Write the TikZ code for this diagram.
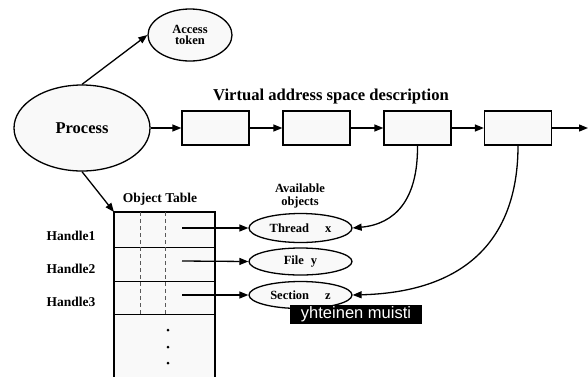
\documentclass[tikz,border=0pt]{standalone}
\usepackage{fontspec}
\setmainfont{Liberation Serif}
\newfontfamily\labelsans{Liberation Sans}
\usetikzlibrary{arrows.meta,shapes.geometric}
\definecolor{pale}{gray}{0.975}
\tikzset{
  every picture/.style={x=1pt,y=-1pt},
  ln/.style={line width=1.3pt},
  arr/.style={ln,-{Triangle[length=9pt,width=7pt]}},
  oval/.style={ellipse,draw,ln,fill=pale,inner sep=0pt,font=\bfseries\fontsize{12.5}{13}\selectfont},
  cell/.style={rectangle,draw,ln,fill=pale,minimum width=67pt,minimum height=34pt,inner sep=0pt},
  lbl/.style={font=\bfseries\fontsize{12.5}{14}\selectfont,align=center,inner sep=0pt},
}
\begin{document}
\begin{tikzpicture}
\useasboundingbox (0,0) rectangle (588,376);
\clip (0,0) rectangle (588,376);
% ellipses
\node[oval,minimum width=84pt,minimum height=52pt,align=center] (tok) at (190,35) {Access\\[-2pt]token};
\node[oval,minimum width=136pt,minimum height=86pt,font=\bfseries\fontsize{16.5}{17}\selectfont] (proc) at (82,128) {Process};
% VAD boxes
\node[cell] (b1) at (215.5,128) {};
\node[cell] (b2) at (316.5,128) {};
\node[cell] (b3) at (417.5,128) {};
\node[cell] (b4) at (518,128) {};
\coordinate (end) at (588,128);
\node[font=\bfseries\fontsize{16.6}{17}\selectfont,inner sep=0pt] (vtitle) at (331,97) {Virtual address space description};
% object table
\draw[ln,fill=pale] (114,212) rectangle (215,390);
\draw[line width=0.8pt] (114,247) -- (215,247) (114,281) -- (215,281) (114,314) -- (215,314);
\draw[line width=0.8pt,dashed,dash pattern=on 4pt off 3pt,gray!70!black] (140,212) -- (140,314) (165,212) -- (165,314);
\coordinate (tl) at (114,212);
\node[lbl,font=\bfseries\fontsize{13.5}{14}\selectfont] (ot) at (160,199) {Object Table};
\node[lbl,font=\bfseries\fontsize{13.5}{14}\selectfont] (h1) at (71,236) {Handle1};
\node[lbl,font=\bfseries\fontsize{13.5}{14}\selectfont] (h2) at (71,269) {Handle2};
\node[lbl,font=\bfseries\fontsize{13.5}{14}\selectfont] (h3) at (71,302) {Handle3};
\foreach \yy/\n in {330/d1,347/d2,363/d3}{\fill (168,\yy) circle (1.5pt) coordinate (\n);}
\coordinate (s1) at (182,228);
\coordinate (s2) at (182,261);
\coordinate (s3) at (182,295);
% available objects
\node[lbl] (avail) at (300,196) {Available\\[-1pt]objects};
\node[oval,minimum width=103pt,minimum height=29pt] (thr) at (300.5,228) {Thread\hspace{16pt}x};
\node[oval,minimum width=103pt,minimum height=27pt] (fil) at (300.5,261.5) {File\hspace{7pt}y};
\node[oval,minimum width=103pt,minimum height=27pt] (sec) at (300.5,295) {Section\hspace{16pt}z};
% connectors
\draw[arr] (proc.north) -- (tok.west);
\draw[arr] (proc.east) -- (b1.west);
\draw[arr] (b1.east) -- (b2.west);
\draw[arr] (b2.east) -- (b3.west);
\draw[arr] (b3.east) -- (b4.west);
\draw[arr] (b4.east) -- (end);
\draw[arr] (proc.south) -- (tl);
\draw[arr] (s1) -- (thr.west);
\draw[arr] (s2) -- (fil.west);
\draw[arr] (s3) -- (sec.west);
\draw[arr] (b3.south) .. controls (418,200) and (395,224) .. (thr.east);
\draw[arr] (b4.south) .. controls (518,235) and (470,292) .. (sec.east);
% label
\node[fill=black,text=white,font=\labelsans\fontsize{16.5}{17}\selectfont,inner xsep=3pt,inner ysep=1pt,minimum height=19pt,minimum width=132pt] (lab) at (356,314.5) {yhteinen muisti};
\end{tikzpicture}
\end{document}
